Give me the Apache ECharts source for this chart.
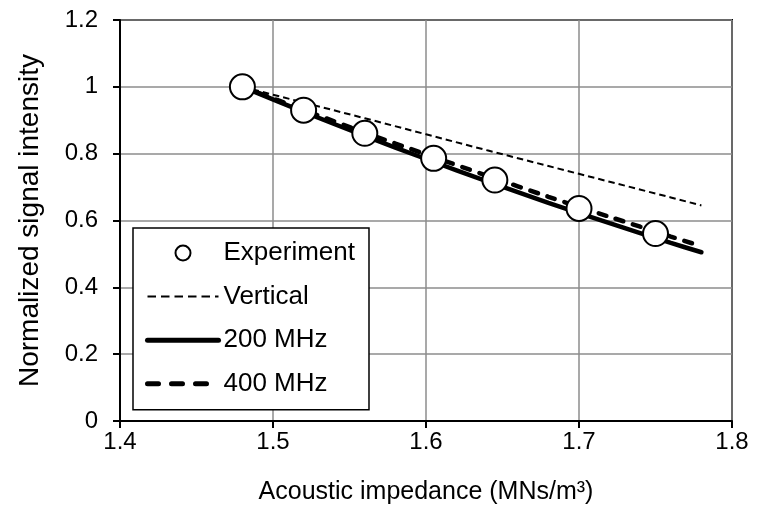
<!DOCTYPE html>
<html>
<head>
<meta charset="utf-8">
<script src="https://cdn.jsdelivr.net/npm/echarts@6/dist/echarts.min.js"></script>
<style>
  html, body { margin: 0; padding: 0; background: #fff; }
  #chart { width: 760px; height: 513px; }
</style>
</head>
<body>
<div id="chart"></div>
<script>
// Measured signal (circles)
const expImpedance = [1.48, 1.52, 1.56, 1.605, 1.645, 1.70, 1.75];
const expSignal    = [1.000, 0.930, 0.861, 0.786, 0.721, 0.636, 0.561];

// Model curves, sampled along impedance
const modelImpedance = [1.48, 1.52, 1.56, 1.60, 1.64, 1.68, 1.72, 1.76, 1.78];
const verticalSignal = [1.000, 0.953, 0.906, 0.858, 0.810, 0.763, 0.716, 0.669, 0.645];
const mhz200Signal   = [1.000, 0.925, 0.853, 0.784, 0.717, 0.653, 0.592, 0.533, 0.505];
const mhz400Signal   = [1.000, 0.931, 0.863, 0.798, 0.734, 0.671, 0.611, 0.552, 0.523];

const xTicks = [1.4, 1.5, 1.6, 1.7, 1.8];
const yTicks = [0, 0.2, 0.4, 0.6, 0.8, 1, 1.2];

const legendNames = ['Experiment', 'Vertical', '200 MHz', '400 MHz'];

const FONT = '"Liberation Sans", Arial, sans-serif';

function pairs(xs, ys) { return xs.map((x, i) => [x, ys[i]]); }

// line styles of the curves
const verticalLine = { color: '#000', width: 2, type: [6.5, 4], cap: 'butt' };
const solidLine    = { color: '#000', width: 4.5, type: 'solid', cap: 'round' };
const dashedLine   = { color: '#000', width: 4.5, type: [8, 10], cap: 'round' };

// legend samples (the legend icon draws dashes at its own scale)
const verticalKey = { color: '#000', width: 2, type: [8.5, 5], cap: 'butt' };
const solidKey    = { color: '#000', width: 5, type: 'solid', cap: 'round' };
const dashedKey   = { color: '#000', width: 5, type: [11, 13], cap: 'round' };

// legend entries for the curves show only their line, no marker
const hiddenMarker = { color: 'transparent', borderColor: 'transparent', opacity: 0 };

const chart = echarts.init(document.getElementById('chart'), null, { renderer: 'canvas' });

chart.setOption({
  animation: false,
  backgroundColor: '#ffffff',
  textStyle: { fontFamily: FONT },
  grid: {
    left: 120, right: 28, top: 20, bottom: 92,
    show: true, borderColor: '#000', borderWidth: 2, backgroundColor: 'transparent'
  },
  xAxis: {
    type: 'value',
    min: xTicks[0], max: xTicks[xTicks.length - 1], interval: 0.1,
    name: 'Acoustic impedance (MNs/m³)',
    nameLocation: 'middle', nameGap: 59,
    nameTextStyle: { fontFamily: FONT, fontSize: 25, color: '#000' },
    axisLine: { show: true, onZero: false, lineStyle: { color: '#000', width: 2 } },
    axisTick: { show: true, inside: false, length: 7, lineStyle: { color: '#000', width: 2 } },
    axisLabel: { fontFamily: FONT, fontSize: 24, color: '#000', margin: 9,
                 formatter: v => v.toFixed(1) },
    splitLine: { show: true, lineStyle: { color: '#8c8c8c', width: 1.5 } }
  },
  yAxis: {
    type: 'value',
    min: yTicks[0], max: yTicks[yTicks.length - 1], interval: 0.2,
    name: 'Normalized signal intensity',
    nameLocation: 'middle', nameGap: 76,
    nameTextStyle: { fontFamily: FONT, fontSize: 28, color: '#000' },
    axisLine: { show: true, onZero: false, lineStyle: { color: '#000', width: 2 } },
    axisTick: { show: true, inside: false, length: 7, lineStyle: { color: '#000', width: 2 } },
    axisLabel: { fontFamily: FONT, fontSize: 24, color: '#000', margin: 22,
                 formatter: v => String(Math.round(v * 10) / 10) },
    splitLine: { show: true, lineStyle: { color: '#8c8c8c', width: 1.5 } }
  },
  legend: {
    data: [
      { name: legendNames[0] },
      { name: legendNames[1], itemStyle: hiddenMarker, lineStyle: verticalKey },
      { name: legendNames[2], itemStyle: hiddenMarker, lineStyle: solidKey },
      { name: legendNames[3], itemStyle: hiddenMarker, lineStyle: dashedKey }
    ],
    orient: 'vertical',
    left: 133, top: 228,
    padding: [12, 14, 13, 12],
    itemWidth: 71, itemHeight: 15, itemGap: 17.6,
    backgroundColor: '#fff',
    borderColor: '#000', borderWidth: 1.5, borderRadius: 0,
    textStyle: { fontFamily: FONT, fontSize: 26, color: '#000', lineHeight: 26 }
  },
  series: [
    {
      name: 'Vertical', type: 'line', data: pairs(modelImpedance, verticalSignal),
      showSymbol: false, symbol: 'none', z: 2,
      itemStyle: { color: '#000' },
      lineStyle: verticalLine
    },
    {
      name: '200 MHz', type: 'line', data: pairs(modelImpedance, mhz200Signal),
      showSymbol: false, symbol: 'none', smooth: 0.3, z: 3,
      itemStyle: { color: '#000' },
      lineStyle: solidLine
    },
    {
      name: '400 MHz', type: 'line', data: pairs(modelImpedance, mhz400Signal),
      showSymbol: false, symbol: 'none', smooth: 0.3, z: 3,
      itemStyle: { color: '#000' },
      lineStyle: dashedLine
    },
    {
      name: 'Experiment', type: 'scatter', data: pairs(expImpedance, expSignal),
      symbol: 'circle', symbolSize: 25, z: 5,
      itemStyle: { color: '#fff', borderColor: '#000', borderWidth: 2, opacity: 1 }
    }
  ]
});
</script>
</body>
</html>
